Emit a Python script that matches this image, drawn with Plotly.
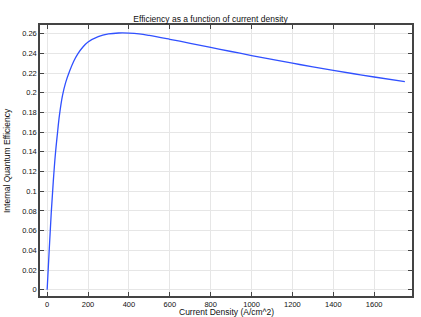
import plotly.graph_objects as go

current_density = [0, 10, 20, 30, 40, 50, 60, 75, 90, 110, 130, 150, 175, 200, 250, 300, 350,
                   400, 450, 500, 600, 700, 800, 900, 1000, 1100, 1200, 1300, 1400, 1500,
                   1600, 1750]
efficiency = [0, 0.04, 0.078, 0.11, 0.137, 0.158, 0.177, 0.197, 0.21, 0.222, 0.232, 0.2395,
              0.2465, 0.2515, 0.257, 0.2597, 0.2607, 0.2606, 0.2598, 0.2582, 0.2543, 0.2502,
              0.2460, 0.2419, 0.2378, 0.2338, 0.2300, 0.2263, 0.2227, 0.2193, 0.2160, 0.2113]

x_ticks = [0, 200, 400, 600, 800, 1000, 1200, 1400, 1600]
y_ticks = [0, 0.02, 0.04, 0.06, 0.08, 0.1, 0.12, 0.14, 0.16, 0.18, 0.2, 0.22, 0.24, 0.26]

FONT = "Liberation Sans, Arial, sans-serif"

fig = go.Figure()
fig.add_trace(go.Scatter(x=current_density, y=efficiency, mode="lines",
                         line=dict(color="#3050ff", width=1.3, shape="spline", smoothing=1.0),
                         showlegend=False))

axis_common = dict(showline=True, linecolor="#444444", linewidth=1.5, mirror="ticks",
                   ticks="inside", ticklen=4, tickcolor="#444444", showgrid=True,
                   gridcolor="#e6e6e6", gridwidth=1, zeroline=False, automargin=False,
                   tickfont=dict(family=FONT, size=7.5, color="#111111"))

fig.update_layout(
    width=421, height=317,
    margin=dict(l=40, r=9, t=25, b=21),
    paper_bgcolor="white", plot_bgcolor="white",
    font=dict(family=FONT, size=8.5, color="#111111"),
    title=dict(text="Efficiency as a function of current density", x=0.5, xanchor="center",
               y=1 - 19.5 / 317, yanchor="middle", font=dict(family=FONT, size=8.5)),
    xaxis=dict(range=[-35, 1785], tickvals=x_ticks, **axis_common),
    yaxis=dict(range=[-0.0064, 0.2688], tickvals=y_ticks, **axis_common),
    annotations=[
        dict(text="Current Density (A/cm^2)", xref="paper", yref="paper",
             x=0.5, y=-15.5 / 271, xanchor="center", yanchor="middle", showarrow=False,
             font=dict(family=FONT, size=8.5)),
        dict(text="Internal Quantum Efficiency", xref="paper", yref="paper",
             x=-33.5 / 372.5, y=0.5, xanchor="center", yanchor="middle", showarrow=False,
             textangle=-90, font=dict(family=FONT, size=8.5)),
    ],
)

fig.write_html("out.html")
